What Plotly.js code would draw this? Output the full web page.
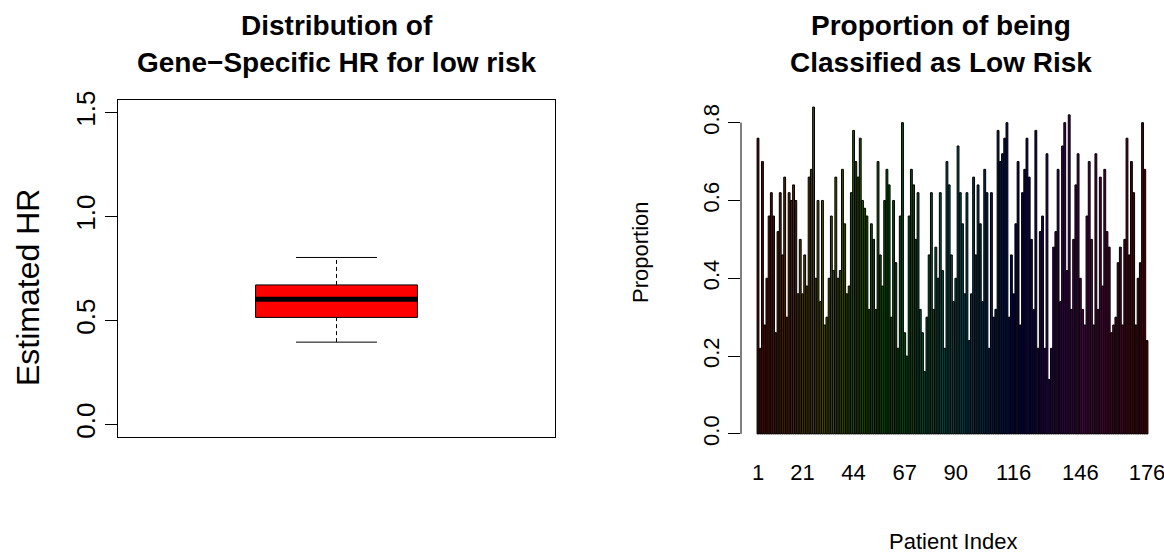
<!DOCTYPE html>
<html><head><meta charset="utf-8">
<script src="https://cdn.plot.ly/plotly-3.0.1.min.js"></script>
<style>html,body{margin:0;padding:0;background:#fff}#chart{width:1164px;height:553px}</style>
</head><body>
<div id="chart"></div>
<script>
// ---------- data ----------
const hrGroup = [1];
const hrQ1 = [0.515];
const hrMedian = [0.602];
const hrQ3 = [0.671];
const hrLowerWhisker = [0.396];
const hrUpperWhisker = [0.803];
const hrTickVals = [0, 0.5, 1.0, 1.5];
const hrTickText = ["0.0", "0.5", "1.0", "1.5"];

const proportion = [
  0.76,0.22,0.70,0.28,0.40,0.56,0.62,0.56,0.26,0.52,0.62,0.46,0.66,0.30,0.62,0.60,0.64,0.60,0.36,0.50,
  0.36,0.46,0.38,0.66,0.68,0.84,0.40,0.60,0.34,
  0.60,0.28,0.30,0.40,0.56,0.42,0.66,0.40,0.42,0.68,0.54,0.36,0.38,0.62,0.78,0.70,0.66,0.76,0.60,0.58,
  0.56,0.32,0.54,0.50,0.32,0.70,0.46,
  0.38,0.60,0.68,0.64,0.30,0.60,0.44,0.22,0.56,0.80,0.26,0.20,0.56,0.68,0.64,0.50,0.62,0.32,0.26,0.16,
  0.30,0.46,0.62,0.32,0.48,0.40,0.62,0.42,0.22,0.70,0.64,
  0.46,0.34,0.40,0.74,0.62,0.54,0.36,0.62,0.24,0.36,0.66,0.46,0.64,0.54,0.34,0.68,0.62,0.22,0.62,0.30,
  0.32,0.78,0.70,0.72,0.76,0.80,0.30,0.46,0.36,0.54,
  0.70,0.28,0.62,0.68,0.76,0.66,0.50,0.32,0.78,0.22,0.52,0.56,0.22,0.72,0.14,0.22,0.48,0.52,0.68,0.34,
  0.74,0.80,0.42,0.82,0.32,0.50,0.64,0.72,0.40,
  0.32,0.28,0.56,0.70,0.50,0.28,0.72,0.32,0.66,0.38,0.68,0.52,0.48,0.26,0.28,0.30,0.44,0.48,0.28,0.50,
  0.76,0.46,0.70,0.62,0.28,0.40,0.44,0.80,0.68,0.24
];
const patientIndex = proportion.map((_, i) => i + 1);
const patientTickVals = [1, 21, 44, 67, 90, 116, 146, 176];
const patientTickText = ["1", "21", "44", "67", "90", "116", "146", "176"];
const propTickVals = [0, 0.2, 0.4, 0.6, 0.8];
const propTickText = ["0.0", "0.2", "0.4", "0.6", "0.8"];

// ---------- layout helpers ----------
const W = 1164, H = 553;
const px = x => x / W;
const py = y => 1 - y / H;
const FONT = "Liberation Sans, Arial, Helvetica, sans-serif";

const L = {x0: 118, x1: 555, y0: 100, y1: 437};
const R = {x0: 741, x1: 1164, y0: 94, y1: 447};
const barPitch = (1147 - 758) / (patientIndex.length - 1);
const rxLo = 1 - (758 - R.x0) / barPitch;
const rxHi = patientIndex.length + (R.x1 - 1147) / barPitch;

const n = patientIndex.length;
// R rainbow() hues, shown dark as in the reference (thin bars dominated by black borders)
const barColors = patientIndex.map((_, i) => `hsl(${(i / n) * 360},100%,17%)`);

const boxHalf = 0.2, capHalf = 0.1;
const cx = hrGroup[0];

const traces = [
  {
    type: "box", x: hrGroup, q1: hrQ1, median: hrMedian, q3: hrQ3,
    lowerfence: hrQ1, upperfence: hrQ3, width: 2 * boxHalf, whiskerwidth: 0,
    fillcolor: "#ff0000", line: {color: "#000", width: 1}, boxpoints: false,
    xaxis: "x", yaxis: "y", hoverinfo: "skip", showlegend: false
  },
  { // whiskers dashed
    type: "scatter", mode: "lines",
    x: [cx, cx, null, cx, cx], y: [hrQ3[0], hrUpperWhisker[0], null, hrLowerWhisker[0], hrQ1[0]],
    line: {color: "#000", width: 1, dash: "4px,3px"}, xaxis: "x", yaxis: "y", hoverinfo: "skip", showlegend: false
  },
  { // caps
    type: "scatter", mode: "lines",
    x: [cx - capHalf, cx + capHalf, null, cx - capHalf, cx + capHalf],
    y: [hrUpperWhisker[0], hrUpperWhisker[0], null, hrLowerWhisker[0], hrLowerWhisker[0]],
    line: {color: "#000", width: 1}, xaxis: "x", yaxis: "y", hoverinfo: "skip", showlegend: false
  },
  { // median
    type: "scatter", mode: "lines",
    x: [cx - boxHalf, cx + boxHalf], y: [hrMedian[0], hrMedian[0]],
    line: {color: "#000", width: 5}, xaxis: "x", yaxis: "y", hoverinfo: "skip", showlegend: false
  },
  {
    type: "bar", x: patientIndex, y: proportion, width: 1 / 1.2,
    marker: {color: barColors, line: {color: "#000", width: 1}},
    xaxis: "x2", yaxis: "y2", hoverinfo: "x+y", showlegend: false
  }
];

const ann = (text, x, y, size, bold, angle) => ({
  text: bold ? `<b>${text}</b>` : text, xref: "paper", yref: "paper",
  x: px(x), y: py(y), xanchor: "center", yanchor: "middle", showarrow: false,
  textangle: angle || 0, font: {family: FONT, size: size, color: "#000"}
});

const lcx = (L.x0 + L.x1) / 2, rcx = (R.x0 + R.x1) / 2;

const layout = {
  width: W, height: H, margin: {l: 0, r: 0, t: 0, b: 0},
  paper_bgcolor: "#fff", plot_bgcolor: "rgba(0,0,0,0)",
  font: {family: FONT, color: "#000"},
  showlegend: false,
  xaxis: {
    domain: [px(L.x0), px(L.x1)], range: [0.46, 1.54], anchor: "y",
    showline: true, mirror: true, linecolor: "#000", linewidth: 1,
    showticklabels: false, ticks: "", showgrid: false, zeroline: false, fixedrange: true
  },
  yaxis: {
    domain: [py(L.y1), py(L.y0)], range: [-0.06, 1.56], anchor: "x",
    showline: true, mirror: true, linecolor: "#000", linewidth: 1,
    tickmode: "array", tickvals: hrTickVals, ticktext: hrTickText,
    ticks: "outside", ticklen: 12, tickwidth: 1, tickcolor: "#000", tickangle: -90,
    tickfont: {family: FONT, size: 26, color: "#000"},
    showgrid: false, zeroline: false, fixedrange: true
  },
  xaxis2: {
    domain: [px(R.x0), px(R.x1)], range: [rxLo, rxHi], anchor: "y2",
    showline: false, tickmode: "array", tickvals: patientTickVals, ticktext: patientTickText,
    ticks: "outside", ticklen: 6, tickcolor: "rgba(0,0,0,0)", tickangle: 0,
    ticklabeloverflow: "allow",
    tickfont: {family: FONT, size: 22, color: "#000"},
    showgrid: false, zeroline: false, fixedrange: true
  },
  yaxis2: {
    domain: [py(R.y1), py(R.y0)], range: [-0.0336, 0.8736], anchor: "x2",
    showline: false, tickmode: "array", tickvals: propTickVals, ticktext: propTickText,
    ticks: "outside", ticklen: 12, tickwidth: 1, tickcolor: "#000", tickangle: -90,
    tickfont: {family: FONT, size: 22, color: "#000"},
    showgrid: false, zeroline: false, fixedrange: true
  },
  shapes: [
    {type: "line", xref: "paper", yref: "y2", x0: px(R.x0), x1: px(R.x0),
     y0: propTickVals[0], y1: propTickVals[propTickVals.length - 1], line: {color: "#000", width: 1}}
  ],
  annotations: [
    ann("Distribution of", lcx, 26, 28, true),
    ann("Gene\u2212Specific HR for low risk", lcx, 63, 28, true),
    ann("Proportion of being", rcx - 12, 26, 28, true),
    ann("Classified as Low Risk", rcx - 12, 63, 28, true),
    ann("Estimated HR", 28, 288, 32, false, -90),
    ann("Proportion", 640, 252, 22, false, -90),
    ann("Patient Index", rcx, 541, 22, false)
  ]
};

Plotly.newPlot("chart", traces, layout, {displayModeBar: false, staticPlot: true});
</script>
</body></html>
